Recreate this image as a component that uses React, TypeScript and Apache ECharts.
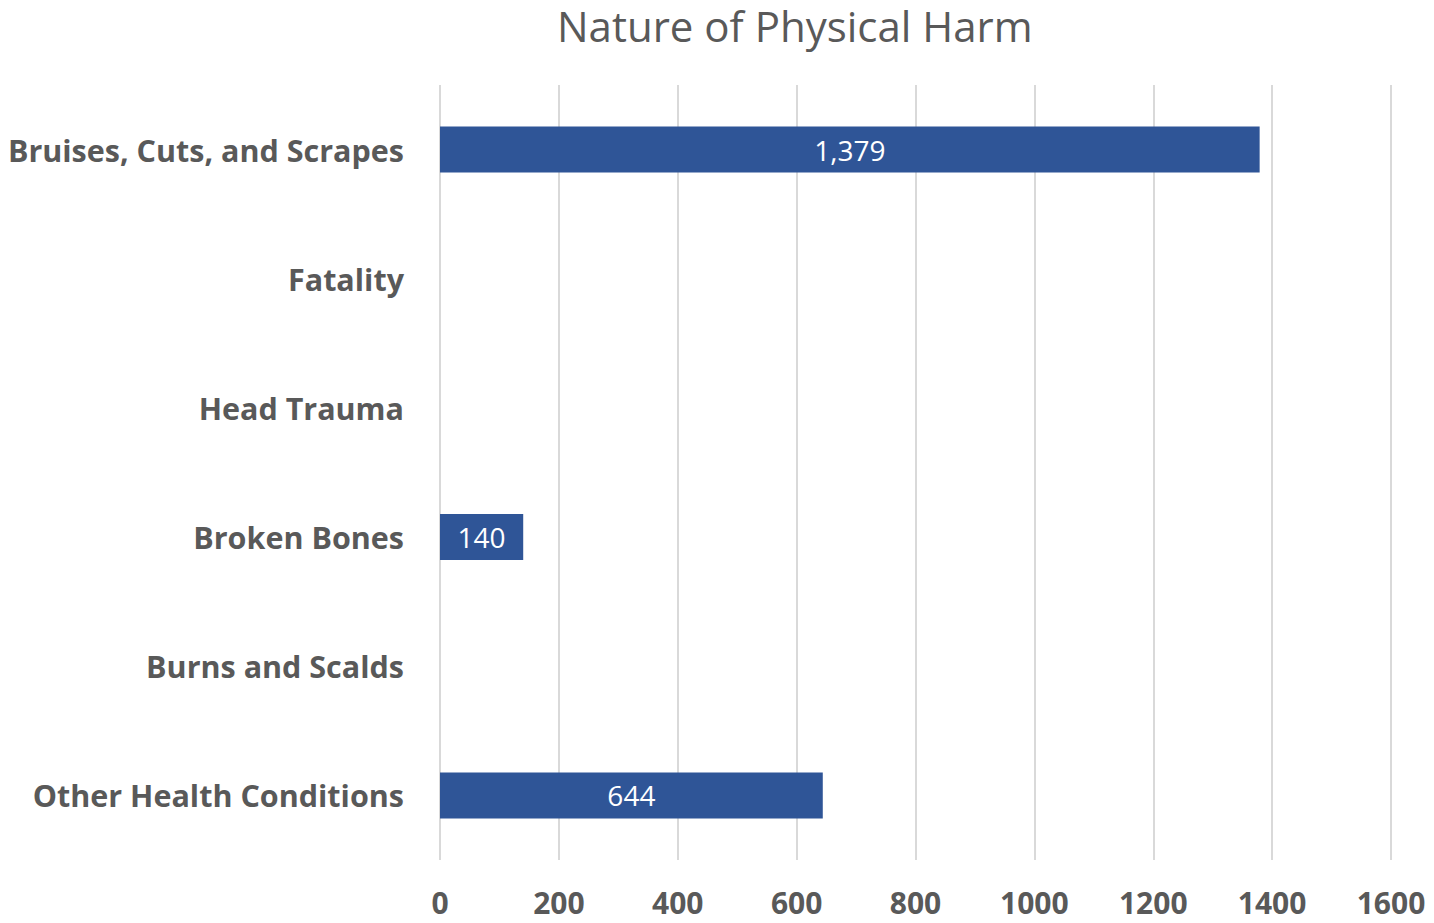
import React, { useEffect, useRef } from "react";
import * as echarts from "echarts";

const categories = [
  "Bruises, Cuts, and Scrapes",
  "Fatality",
  "Head Trauma",
  "Broken Bones",
  "Burns and Scalds",
  "Other Health Conditions",
];
const values: (number | null)[] = [1379, null, null, 140, null, 644];
const xMin = 0;
const xMax = 1600;
const xInterval = 200;
const titleText = "Nature of Physical Harm";

const FONT = "'Open Sans', 'Noto Sans', sans-serif";
const GREY = "#595959";

export default function App() {
  const ref = useRef<HTMLDivElement>(null);
  useEffect(() => {
    document.body.style.margin = "0";
    const chart = echarts.init(ref.current!, null, { renderer: "svg" });
    chart.setOption({
      animation: false,
      backgroundColor: "#ffffff",
      graphic: [
        {
          type: "text",
          left: 557,
          top: 4,
          style: {
            text: titleText,
            fontFamily: FONT,
            fontSize: 42,
            lineHeight: 42,
            fontWeight: "normal",
            fill: GREY,
          },
        },
      ],
      grid: { left: 440, right: 43, top: 85, bottom: 63, containLabel: false, outerBoundsMode: "none" },
      xAxis: {
        type: "value",
        min: xMin,
        max: xMax,
        interval: xInterval,
        axisLine: { show: false },
        axisTick: { show: false },
        splitLine: { show: true, lineStyle: { color: "#d9d9d9", width: 2 } },
        axisLabel: {
          margin: 27,
          fontFamily: FONT,
          fontSize: 30,
          lineHeight: 30,
          fontWeight: "bold",
          color: GREY,
          formatter: (v: number) => String(v),
        },
      },
      yAxis: {
        type: "category",
        data: categories,
        inverse: true,
        axisLine: { show: false },
        axisTick: { show: false },
        axisLabel: {
          margin: 36,
          fontFamily: FONT,
          fontSize: 30.5,
          fontWeight: "bold",
          color: GREY,
        },
      },
      series: [
        {
          type: "bar",
          data: values,
          barWidth: 46,
          itemStyle: { color: "#2f5597" },
          label: {
            show: true,
            position: "inside",
            color: "#ffffff",
            fontFamily: FONT,
            fontSize: 28,
            formatter: (p: any) => (p.value == null ? "" : Number(p.value).toLocaleString("en-US")),
          },
        },
      ],
    });
    return () => chart.dispose();
  }, []);
  return <div ref={ref} style={{ width: 1434, height: 923 }} />;
}
